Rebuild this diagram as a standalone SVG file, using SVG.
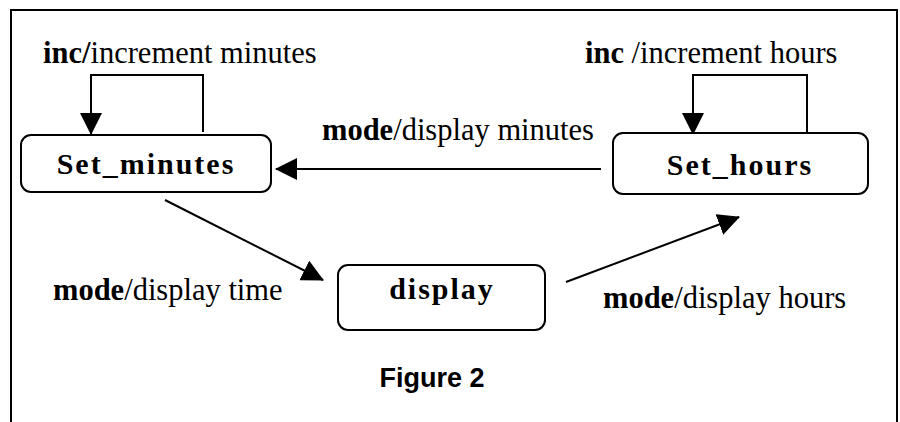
<svg xmlns="http://www.w3.org/2000/svg" width="900" height="422" viewBox="0 0 900 422">
<style>
.frame{fill:none;stroke:#000;stroke-width:2}
.node{fill:#fff;stroke:#000;stroke-width:2}
.edge{fill:none;stroke:#000;stroke-width:2}
.lbl{font-family:"Liberation Serif","Times New Roman",serif;font-size:30.5px;fill:#000}
.lbl .b{font-weight:bold}
.nt{font-family:"Liberation Serif","Times New Roman",serif;font-size:30px;font-weight:bold;fill:#000;letter-spacing:2px;text-anchor:middle}
.cap{font-family:"Liberation Sans",Arial,sans-serif;font-size:27px;font-weight:bold;fill:#000;text-anchor:middle}
</style>
<defs>
<marker id="ah" viewBox="0 0 22 22" refX="21" refY="11" markerWidth="22" markerHeight="22" markerUnits="userSpaceOnUse" orient="auto">
<path d="M0,0 L22,11 L0,22 z" fill="#000"/>
</marker>
</defs>
<rect class="frame" x="11" y="10" width="886" height="430"/>
<g id="connectors">
<path class="edge" d="M203,132 V75 H91 V134" marker-end="url(#ah)"/>
<path class="edge" d="M807,132 V75 H693 V134" marker-end="url(#ah)"/>
<path class="edge" d="M601,169 H276" marker-end="url(#ah)"/>
<path class="edge" d="M165,200 L323,280" marker-end="url(#ah)"/>
<path class="edge" d="M566,282 L739,217" marker-end="url(#ah)"/>
</g>
<g id="labels">
<text class="lbl" x="43" y="63"><tspan class="b">inc/</tspan>increment minutes</text>
<text class="lbl" x="585" y="63"><tspan class="b">inc</tspan> /increment hours</text>
<text class="lbl" x="322" y="140"><tspan class="b">mode</tspan>/display minutes</text>
<text class="lbl" x="53" y="300"><tspan class="b">mode</tspan>/display time</text>
<text class="lbl" x="603" y="308"><tspan class="b">mode</tspan>/display hours</text>
</g>
<g id="Set_minutes">
<rect class="node" x="21" y="135" width="250" height="57" rx="10"/>
<text class="nt" x="146" y="174">Set_minutes</text>
</g>
<g id="Set_hours">
<rect class="node" x="613" y="133" width="255" height="61" rx="10"/>
<text class="nt" x="740" y="175">Set_hours</text>
</g>
<g id="display">
<rect class="node" x="338" y="265" width="207" height="65" rx="10"/>
<text class="nt" x="442" y="299">display</text>
</g>
<text class="cap" x="432" y="387">Figure 2</text>
</svg>
